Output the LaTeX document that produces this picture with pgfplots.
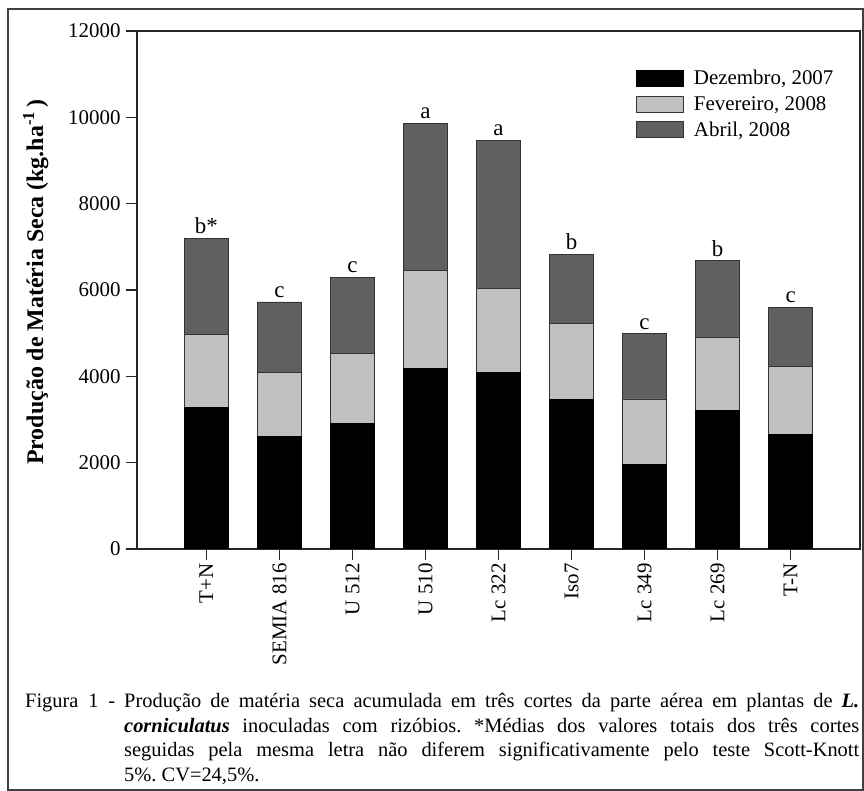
\documentclass[border=0pt]{standalone}
\usepackage{pgfplots}
\pgfplotsset{compat=1.18}
\usepackage{fontspec}
\setmainfont{Liberation Serif}

\definecolor{dez}{gray}{0}
\definecolor{fev}{HTML}{C0C0C0}
\definecolor{abr}{HTML}{606060}

\pgfplotsset{
  legbox/.style={legend image code/.code={\draw[##1] (0bp,-8bp) rectangle (47bp,8bp);}},
  figbox/.style={at={(137bp,242bp)}, anchor=south west,
    width=723bp, height=518bp, scale only axis,
    xmin=-0.95, xmax=8.95, ymin=0, ymax=12000},
}

\begin{document}
\begin{tikzpicture}
\useasboundingbox (0bp,0bp) rectangle (864bp,791bp);
\draw[line width=1.6bp, black!75] (8bp,0.8bp) rectangle (863bp,782bp);
\begin{axis}[
    figbox,
    ybar stacked, bar width=44bp,
    xtick={0,...,8},
    xticklabels={T+N,SEMIA 816,U 512,U 510,Lc 322,Iso7,Lc 349,Lc 269,T-N},
    ytick={0,2000,...,12000},
    scaled y ticks=false,
    tick align=outside,
    xtick pos=bottom, ytick pos=left,
    major tick length=11bp,
    axis line style={line width=1.2bp, black!85},
    tick style={line width=1.2bp, black!85},
    /pgf/number format/1000 sep={},
    /pgf/number format/assume math mode=true,
    tick label style={font=\fontsize{21}{24}\selectfont},
    x tick label style={rotate=90, anchor=east},
    y tick label style={xshift=-2bp},
    ylabel={\bfseries Produção de Matéria Seca (kg.ha\textsuperscript{-1}\,)},
    ylabel style={at={(axis description cs:-0.140,0.515)}, anchor=center,
      font=\fontsize{24}{26}\selectfont},
    legend style={draw=none, fill=none, at={(0.686,0.932)}, anchor=north west,
      font=\fontsize{21}{24}\selectfont, row sep=6bp, column sep=8bp,
      nodes={inner sep=2bp}},
    legend cell align=left,
    every axis plot/.append style={draw=black!80, line width=0.8bp},
]
\addplot[fill=dez, draw=black, legbox] coordinates {
  (0,3273) (1,2610) (2,2912) (3,4177) (4,4085) (5,3467) (6,1962) (7,3220) (8,2648)
};
\addlegendentry{Dezembro, 2007}
\addplot[fill=fev, legbox] coordinates {
  (0,1707) (1,1483) (2,1613) (3,2286) (4,1945) (5,1753) (6,1513) (7,1684) (8,1591)
};
\addlegendentry{Fevereiro, 2008}
\addplot[fill=abr, legbox] coordinates {
  (0,2224) (1,1629) (2,1776) (3,3398) (4,3444) (5,1606) (6,1513) (7,1775) (8,1367)
};
\addlegendentry{Abril, 2008}
\end{axis}
% letras de Scott-Knott sobre o total de cada coluna
\begin{axis}[figbox, hide axis]
\addplot[only marks, mark=*, mark size=0pt, mark options={draw=none, fill=none},
    nodes near coords, point meta=explicit symbolic,
    nodes near coords style={font=\fontsize{23}{24}\selectfont, text=black,
      anchor=south, inner sep=4bp}]
  coordinates {
  (0,7204)[b*] (1,5722)[c] (2,6301)[c] (3,9861)[a] (4,9474)[a]
  (5,6826)[b] (6,4988)[c] (7,6679)[b] (8,5606)[c]
};
\end{axis}
\node[anchor=base west, inner sep=0pt, font=\fontsize{20.5}{25}\selectfont]
  at (25bp,83bp) {\makebox[90bp][s]{Figura 1 -}};
\node[anchor=north west, text width=735bp, inner sep=0pt, align=justify,
      font=\fontsize{20.5}{25}\selectfont] at (124bp,101.5bp)
  {\frenchspacing\strut Produção de matéria seca acumulada em três cortes da parte aérea em plantas de \textbf{\textit{L.}}\linebreak
   \textbf{\textit{corniculatus}} inoculadas com rizóbios. *Médias dos valores totais dos três cortes\linebreak
   seguidas pela mesma letra não diferem significativamente pelo teste Scott-Knott\linebreak
   5\%. CV=24,5\%.};
\end{tikzpicture}
\end{document}
